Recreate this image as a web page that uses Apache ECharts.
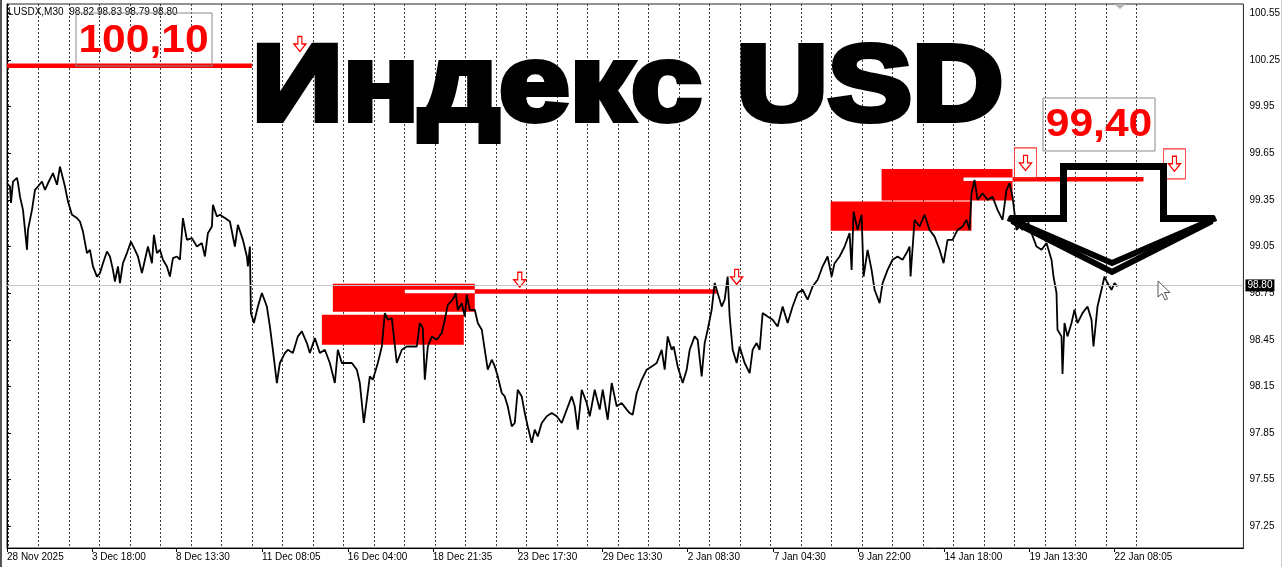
<!DOCTYPE html>
<html><head><meta charset="utf-8">
<script src="https://cdn.jsdelivr.net/npm/echarts@6/dist/echarts.min.js"></script>
<style>html,body{margin:0;padding:0;background:#fff}#c{width:1283px;height:567px}</style>
</head><body><div id="c"></div>
<script>
// ---- data ----
const headerText = 'LUSDX,M30  98.82 98.83 98.79 98.80';
const titleText = 'Индекс USD';
const levelNotes = ['100,10', '99,40'];
const xTickLabels = ['28 Nov 2025','3 Dec 18:00','8 Dec 13:30','11 Dec 08:05','16 Dec 04:00','18 Dec 21:35','23 Dec 17:30','29 Dec 13:30','2 Jan 08:30','7 Jan 04:30','9 Jan 22:00','14 Jan 18:00','19 Jan 13:30','22 Jan 08:05'];
const xTickBars = [0,85,169,255,341,426,511,596,681,767,852,938,1023,1108];
const yTickValues = [97.25,97.55,97.85,98.15,98.45,98.75,99.05,99.35,99.65,99.95,100.25,100.55];
const priceBars = [0,3,4,6,10,11,13,16,20,21,25,28,31,35,38,41,46,50,53,55,58,61,65,70,73,76,80,83,86,90,93,96,100,103,106,108,111,113,116,120,124,128,131,135,138,141,145,147,150,153,156,160,163,166,170,173,176,180,185,190,195,198,201,205,206,210,213,218,223,228,231,236,240,241,243,244,247,251,255,260,263,266,270,273,278,281,286,291,295,300,303,308,313,318,323,328,331,335,340,345,350,353,357,360,363,366,371,375,378,381,385,390,395,400,405,410,413,416,418,421,425,430,435,438,441,446,449,451,455,458,460,463,468,471,475,478,481,485,488,491,495,498,501,505,508,511,515,518,521,525,528,531,535,540,545,550,555,560,565,568,571,575,580,583,588,593,596,601,605,610,615,620,623,626,630,635,640,645,650,655,658,661,665,667,671,676,680,683,688,691,695,698,701,705,708,711,715,718,721,723,726,730,733,736,738,743,746,750,753,756,761,766,771,776,781,786,791,796,801,806,811,816,821,825,828,833,838,843,845,847,851,855,857,861,865,868,873,876,881,886,891,896,900,903,904,908,913,918,923,928,933,937,941,946,951,956,960,963,965,968,971,976,981,986,991,996,1000,1003,1006,1010,1013,1016,1020,1025,1030,1035,1040,1045,1047,1050,1051,1055,1056,1058,1061,1065,1068,1071,1076,1081,1085,1087,1091,1095,1098,1101,1105,1108,1111];
const priceValues = [99.457,99.436,99.331,99.468,99.492,99.459,99.371,99.286,99.029,99.157,99.286,99.414,99.436,99.468,99.414,99.457,99.522,99.447,99.564,99.554,99.436,99.339,99.254,99.233,99.211,99.146,99.008,99.029,98.922,98.857,98.879,98.943,99.018,98.986,98.900,98.825,98.922,98.815,98.943,99.008,99.082,99.029,98.986,98.879,98.965,99.050,98.943,99.125,99.008,99.029,98.965,98.922,98.857,98.976,98.986,98.965,99.233,99.093,99.104,99.050,99.072,98.986,99.136,99.179,99.318,99.243,99.254,99.233,99.211,99.050,99.190,99.093,98.986,98.922,99.050,98.622,98.558,98.664,98.751,98.664,98.536,98.386,98.172,98.301,98.365,98.386,98.365,98.472,98.504,98.429,98.365,98.461,98.365,98.386,98.301,98.172,98.386,98.301,98.301,98.301,98.258,98.172,97.915,98.065,98.215,98.193,98.301,98.407,98.622,98.579,98.590,98.301,98.386,98.407,98.407,98.407,98.558,98.526,98.193,98.407,98.472,98.450,98.494,98.579,98.675,98.708,98.751,98.643,98.686,98.600,98.740,98.643,98.643,98.558,98.515,98.386,98.258,98.322,98.279,98.215,98.108,98.086,98.022,97.893,97.915,98.129,98.086,97.979,97.893,97.787,97.872,97.829,97.915,97.958,97.979,97.958,97.915,98.001,98.086,98.022,97.872,98.129,98.044,97.958,98.129,98.001,98.129,97.936,98.172,98.022,98.044,98.001,97.979,97.968,98.108,98.193,98.258,98.279,98.301,98.386,98.258,98.472,98.386,98.407,98.279,98.172,98.258,98.386,98.472,98.450,98.215,98.429,98.515,98.643,98.815,98.751,98.664,98.708,98.857,98.600,98.386,98.301,98.407,98.343,98.301,98.236,98.386,98.429,98.386,98.622,98.600,98.579,98.536,98.664,98.558,98.664,98.751,98.772,98.708,98.793,98.836,98.922,98.986,98.857,98.943,98.986,99.050,99.136,98.900,99.275,99.157,99.254,98.857,99.029,98.900,98.772,98.686,98.815,98.900,98.965,98.986,98.965,99.008,99.050,98.857,99.222,99.179,99.254,99.157,99.114,99.029,98.943,99.093,99.093,99.157,99.179,99.222,99.157,99.393,99.479,99.350,99.393,99.350,99.371,99.286,99.222,99.414,99.457,99.371,99.157,99.179,99.157,99.243,99.136,99.050,99.029,99.072,98.965,98.857,98.751,98.515,98.472,98.230,98.558,98.472,98.558,98.643,98.558,98.622,98.664,98.579,98.407,98.664,98.772,98.857,98.815,98.772,98.815,98.793];
const lastPrice = 98.80;
const zones = [[326,468,98.810,98.630],[315,457,98.611,98.418],[875,1006,99.549,99.346],[824,965,99.339,99.151]];
const redLevels = [[0,245,100.213],[468,710,98.761],[1006,1137,99.483]];
const whiteLevels = [[398,468,98.761],[957,1006,99.483]];
const sellArrows = [[293,100.353],[513,98.836],[730,98.855],[1019,99.588],[1168,99.582]];
const selectedArrows = [[1019,99.588],[1168,99.582]];

// ---- chart ----
const chart = echarts.init(document.getElementById('c'), null, {renderer: 'canvas'});
const FONT = '"Liberation Sans", Arial, sans-serif';
const priceData = priceBars.map((b, i) => [b, priceValues[i]]);

function levelSeries(data, color, width, z) {
  return {
    type: 'custom', xAxisIndex: 0, yAxisIndex: 0, z: z, silent: true,
    data: data,
    renderItem: function (params, api) {
      const a = api.coord([api.value(0), api.value(2)]);
      const b = api.coord([api.value(1), api.value(2)]);
      return {type: 'line', shape: {x1: a[0], y1: a[1], x2: b[0], y2: b[1]},
        style: {stroke: color, lineWidth: width}};
    }
  };
}

const option = {
  animation: false,
  backgroundColor: '#fff',
  grid: [
    {left: 7, right: 39, top: 4, bottom: 19, show: true, borderColor: '#222', borderWidth: 1, backgroundColor: 'transparent'},
    {left: 7.8, width: 1128.7, top: 4, bottom: 19, show: false}
  ],
  xAxis: [
    {
      type: 'value', gridIndex: 0, min: 0, max: 1237,
      axisLine: {show: true, lineStyle: {color: '#000', width: 1}},
      axisTick: {show: true, customValues: xTickBars, length: 4, lineStyle: {color: '#000'}},
      axisLabel: {
        customValues: xTickBars, align: 'left', margin: 4, fontSize: 10, color: '#000', fontFamily: FONT,
        formatter: function (v) { const i = xTickBars.indexOf(v); return i >= 0 ? xTickLabels[i] : ''; }
      },
      splitLine: {show: false}
    },
    {
      type: 'value', gridIndex: 1, min: 0, max: 37, interval: 1,
      axisLine: {show: false}, axisTick: {show: false}, axisLabel: {show: false},
      splitLine: {show: true, lineStyle: {color: '#3a3a3a', width: 1, type: [2, 2]}}
    }
  ],
  yAxis: [
    {
      type: 'value', gridIndex: 0, position: 'right', min: 97.111, max: 100.61,
      axisLine: {show: true, lineStyle: {color: '#000', width: 1}},
      axisTick: {show: true, customValues: yTickValues, length: 4, lineStyle: {color: '#000'}},
      axisLabel: {customValues: yTickValues, margin: 6, fontSize: 10, color: '#000', fontFamily: FONT,
        formatter: function (v) { return v.toFixed(2); }},
      splitLine: {show: false}
    },
    {type: 'value', gridIndex: 1, min: 0, max: 1, show: false}
  ],
  series: [
    {
      type: 'custom', xAxisIndex: 0, yAxisIndex: 0, z: 1, silent: true,
      data: zones,
      renderItem: function (params, api) {
        const a = api.coord([api.value(0), api.value(2)]);
        const b = api.coord([api.value(1), api.value(3)]);
        return {type: 'rect', shape: {x: a[0], y: a[1], width: b[0] - a[0], height: b[1] - a[1]},
          style: {fill: '#ff0000'}};
      }
    },
    levelSeries(redLevels, '#ff0000', 4.5, 2),
    levelSeries(whiteLevels, '#ffffff', 3.5, 2),
    {
      type: 'line', xAxisIndex: 0, yAxisIndex: 0, z: 3, data: priceData,
      symbol: 'none', silent: true,
      lineStyle: {color: '#000', width: 1.8},
      markLine: {
        silent: true, symbol: ['none', 'none'],
        lineStyle: {color: '#c4c4c4', width: 1, type: 'solid'},
        label: {position: 'end', distance: 2, formatter: lastPrice.toFixed(2), color: '#fff',
          backgroundColor: '#000', padding: [1, 2, 1, 2], fontSize: 10, fontFamily: FONT},
        data: [{yAxis: lastPrice}]
      }
    },
    {
      type: 'scatter', xAxisIndex: 0, yAxisIndex: 0, z: 4, silent: true,
      data: sellArrows,
      symbol: 'path://M4,0L8,0L8,8L12,8L6,16L0,8L4,8Z', symbolSize: [12, 15],
      itemStyle: {color: '#fff', borderColor: '#ff0000', borderWidth: 1.3, opacity: 1}
    },
    {
      type: 'scatter', xAxisIndex: 0, yAxisIndex: 0, z: 4, silent: true,
      data: selectedArrows, symbol: 'rect', symbolSize: [22, 30],
      itemStyle: {color: 'rgba(0,0,0,0)', borderColor: '#ff3030', borderWidth: 1, opacity: 1}
    }
  ],
  graphic: [
    {type: 'rect', z: 100, shape: {x: 0, y: 0, width: 2, height: 567}, style: {fill: '#555'}},
    {type: 'line', z: 100, shape: {x1: 1281.5, y1: 0, x2: 1281.5, y2: 567}, style: {stroke: '#cfcfcf', lineWidth: 1}},
    {type: 'polygon', z: 100, shape: {points: [[1114, 4], [1126, 4], [1120, 9]]}, style: {fill: '#b4b4b4'}},
    {type: 'text', z: 100, x: 8, y: 12, style: {text: headerText, font: '10px ' + FONT, fill: '#000', verticalAlign: 'middle'}},
    // level note boxes
    {type: 'rect', z: 100, shape: {x: 76, y: 13, width: 136, height: 53}, style: {fill: 'none', stroke: '#8a8a8a', lineWidth: 1}},
    {type: 'group', z: 100, x: 143.5, y: 42, scaleX: 1.12, children: [
      {type: 'text', z: 100, style: {text: levelNotes[0], font: 'bold 38px ' + FONT, fill: '#ff0000', align: 'center', verticalAlign: 'middle'}}
    ]},
    {type: 'rect', z: 100, shape: {x: 1043, y: 98, width: 112, height: 53}, style: {fill: 'none', stroke: '#8a8a8a', lineWidth: 1}},
    {type: 'group', z: 100, x: 1099, y: 126, scaleX: 1.12, children: [
      {type: 'text', z: 100, style: {text: levelNotes[1], font: 'bold 38px ' + FONT, fill: '#ff0000', align: 'center', verticalAlign: 'middle'}}
    ]},
    // title
    {type: 'group', z: 100, x: 252, y: 90, scaleX: 1.17, children: [
      {type: 'text', z: 100, style: {text: titleText, font: 'bold 108px ' + FONT, fill: '#000', stroke: '#000', lineWidth: 6,
        align: 'left', verticalAlign: 'middle'}}
    ]},
    // big hollow down arrow
    {type: 'polyline', z: 100, shape: {points: [[1010, 218.5], [1063.5, 218.5], [1063.5, 166.5], [1163.5, 166.5], [1163.5, 218.5], [1214, 218.5]]},
      style: {stroke: '#000', lineWidth: 7, fill: 'none', lineJoin: 'miter'}},
    {type: 'polyline', z: 100, shape: {points: [[1008, 218], [1112, 263], [1216, 218]]},
      style: {stroke: '#000', lineWidth: 6, fill: 'none', lineJoin: 'miter'}},
    {type: 'polyline', z: 100, shape: {points: [[1012, 221], [1112, 272], [1212, 221]]},
      style: {stroke: '#000', lineWidth: 6, fill: 'none', lineJoin: 'miter'}},
    // mouse cursor
    {type: 'polygon', z: 100, shape: {points: [[1158, 281], [1158, 297], [1162, 293.5], [1165, 300], [1167.5, 299], [1164.5, 292.5], [1170, 292.5]]},
      style: {fill: '#fff', stroke: '#555', lineWidth: 1}}
  ]
};
chart.setOption(option);
</script>
</body></html>
